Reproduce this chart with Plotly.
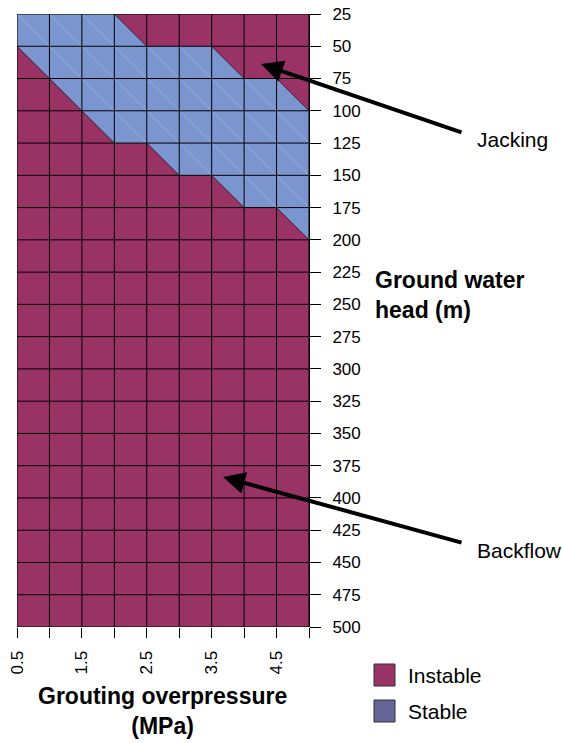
import plotly.graph_objects as go

# Grid of the stability map: grouting overpressure (MPa) across, ground water head (m) down
pressure = [0.5, 1.0, 1.5, 2.0, 2.5, 3.0, 3.5, 4.0, 4.5, 5.0]
pressure_labels = ["0.5", "", "1.5", "", "2.5", "", "3.5", "", "4.5", ""]
head = [25, 50, 75, 100, 125, 150, 175, 200, 225, 250,
        275, 300, 325, 350, 375, 400, 425, 450, 475, 500]

# 1 = stable, 0 = instable, one row per head value, one column per pressure value
stable = [
    [1, 1, 1, 1, 0, 0, 0, 0, 0, 0],  # 25
    [1, 1, 1, 1, 1, 1, 1, 0, 0, 0],  # 50
    [0, 1, 1, 1, 1, 1, 1, 1, 1, 0],  # 75
    [0, 0, 1, 1, 1, 1, 1, 1, 1, 1],  # 100
    [0, 0, 0, 1, 1, 1, 1, 1, 1, 1],  # 125
    [0, 0, 0, 0, 0, 1, 1, 1, 1, 1],  # 150
    [0, 0, 0, 0, 0, 0, 0, 1, 1, 1],  # 175
    [0, 0, 0, 0, 0, 0, 0, 0, 0, 1],  # 200
    [0, 0, 0, 0, 0, 0, 0, 0, 0, 0],  # 225
    [0, 0, 0, 0, 0, 0, 0, 0, 0, 0],  # 250
    [0, 0, 0, 0, 0, 0, 0, 0, 0, 0],  # 275
    [0, 0, 0, 0, 0, 0, 0, 0, 0, 0],  # 300
    [0, 0, 0, 0, 0, 0, 0, 0, 0, 0],  # 325
    [0, 0, 0, 0, 0, 0, 0, 0, 0, 0],  # 350
    [0, 0, 0, 0, 0, 0, 0, 0, 0, 0],  # 375
    [0, 0, 0, 0, 0, 0, 0, 0, 0, 0],  # 400
    [0, 0, 0, 0, 0, 0, 0, 0, 0, 0],  # 425
    [0, 0, 0, 0, 0, 0, 0, 0, 0, 0],  # 450
    [0, 0, 0, 0, 0, 0, 0, 0, 0, 0],  # 475
    [0, 0, 0, 0, 0, 0, 0, 0, 0, 0],  # 500
]

legend_names = ["Instable", "Stable"]

INSTABLE = "#993366"
STABLE_FILL = "#7B96CE"
STABLE_KEY = "#666699"
FONT = "Liberation Sans, Arial, sans-serif"

# Each grid cell is split along its top-left / bottom-right diagonal;
# a triangle is stable only when all three of its corners are stable.
tri_x, tri_y = [], []
edge_x, edge_y = [], []
seam_x, seam_y = [], []
for j in range(len(head) - 1):
    for i in range(len(pressure) - 1):
        x0, x1 = pressure[i], pressure[i + 1]
        y0, y1 = head[j], head[j + 1]
        upper = stable[j][i] and stable[j][i + 1] and stable[j + 1][i + 1]
        lower = stable[j][i] and stable[j + 1][i] and stable[j + 1][i + 1]
        if upper:
            tri_x += [x0, x1, x1, x0, None]
            tri_y += [y0, y0, y1, y0, None]
        if lower:
            tri_x += [x0, x0, x1, x0, None]
            tri_y += [y0, y1, y1, y0, None]
        if upper and lower:
            seam_x += [x0, x1, None]
            seam_y += [y0, y1, None]
        elif upper or lower:
            edge_x += [x0, x1, None]
            edge_y += [y0, y1, None]

p0, p1 = pressure[0], pressure[-1]
h0, h1 = head[0], head[-1]

grid_x, grid_y = [], []
for p in pressure:
    grid_x += [p, p, None]
    grid_y += [h0, h1, None]
for h in head:
    grid_x += [p0, p1, None]
    grid_y += [h, h, None]

fig = go.Figure()

# instable background over the whole grid
fig.add_trace(go.Scatter(
    x=[p0, p1, p1, p0, p0], y=[h0, h0, h1, h1, h0],
    mode="lines", fill="toself", fillcolor=INSTABLE, name=legend_names[0],
    line=dict(width=0), showlegend=False, hoverinfo="skip"))

# stable triangles
fig.add_trace(go.Scatter(
    x=tri_x, y=tri_y, mode="lines", fill="toself", fillcolor=STABLE_FILL,
    name=legend_names[1], line=dict(width=0), showlegend=False, hoverinfo="skip"))

# faint diagonals inside stable cells
fig.add_trace(go.Scatter(
    x=seam_x, y=seam_y, mode="lines",
    line=dict(color="rgba(225,232,250,0.28)", width=1),
    showlegend=False, hoverinfo="skip"))

# boundary diagonals between the two zones
fig.add_trace(go.Scatter(
    x=edge_x, y=edge_y, mode="lines",
    line=dict(color="rgba(40,20,40,0.8)", width=1),
    showlegend=False, hoverinfo="skip"))

# cell grid
fig.add_trace(go.Scatter(
    x=grid_x, y=grid_y, mode="lines",
    line=dict(color="black", width=1),
    showlegend=False, hoverinfo="skip"))

PLOT_L, PLOT_T, PLOT_W, PLOT_H = 17, 14, 292, 613


def px_x(px):
    return (px - PLOT_L) / PLOT_W


def px_y(py):
    return (PLOT_T + PLOT_H - py) / PLOT_H


fig.update_layout(
    width=562, height=743, autosize=False,
    margin=dict(l=PLOT_L, r=562 - PLOT_L - PLOT_W, t=PLOT_T,
                b=743 - PLOT_T - PLOT_H, pad=0),
    paper_bgcolor="white", plot_bgcolor="white",
    font=dict(family=FONT, size=17, color="black"),
    showlegend=False,
    xaxis=dict(
        range=[p0, p1], tickmode="array", tickvals=pressure, ticktext=pressure_labels,
        tickangle=-90, ticks="outside", ticklen=10, tickwidth=1, tickcolor="black",
        showgrid=False, zeroline=False, showline=False, automargin=False,
        tickfont=dict(size=17), ticklabelstandoff=6, fixedrange=True),
    yaxis=dict(
        range=[h1, h0], side="right", tickmode="array", tickvals=head,
        ticks="outside", ticklen=11, tickwidth=1, tickcolor="black",
        showgrid=False, zeroline=False, showline=True, linecolor="black", linewidth=1,
        automargin=False, tickfont=dict(size=17), ticklabelstandoff=8,
        fixedrange=True),
    hovermode=False,
)

annotations = [
    # arrows
    dict(x=4.26, y=63.7, xref="x", yref="y", text="", showarrow=True,
         arrowhead=2, arrowsize=1.1, arrowwidth=4, arrowcolor="black",
         ax=202, ay=69),
    dict(x=3.675, y=383.8, xref="x", yref="y", text="", showarrow=True,
         arrowhead=2, arrowsize=1.1, arrowwidth=4, arrowcolor="black",
         ax=240, ay=66),
    # labels
    dict(x=px_x(475), y=px_y(139), xref="paper", yref="paper", text="Jacking",
         showarrow=False, xanchor="left", yanchor="middle", font=dict(size=21)),
    dict(x=px_x(475), y=px_y(550), xref="paper", yref="paper", text="Backflow",
         showarrow=False, xanchor="left", yanchor="middle", font=dict(size=21)),
    dict(x=px_x(373), y=px_y(295), xref="paper", yref="paper",
         text="<b>Ground water<br>head (m)</b>", align="left",
         showarrow=False, xanchor="left", yanchor="middle", font=dict(size=23)),
    dict(x=px_x(162), y=px_y(711), xref="paper", yref="paper",
         text="<b>Grouting overpressure<br>(MPa)</b>", align="center",
         showarrow=False, xanchor="center", yanchor="middle", font=dict(size=23)),
]

# legend keys
shapes = []
for name, color, cy in [(legend_names[0], INSTABLE, 675), (legend_names[1], STABLE_KEY, 711)]:
    shapes.append(dict(type="rect", xref="paper", yref="paper",
                       x0=px_x(374), x1=px_x(395), y0=px_y(cy + 11), y1=px_y(cy - 11),
                       fillcolor=color, line=dict(color="#333333", width=1)))
    annotations.append(dict(x=px_x(406), y=px_y(cy), xref="paper", yref="paper",
                            text=name, showarrow=False, xanchor="left",
                            yanchor="middle", font=dict(size=21)))

fig.update_layout(annotations=annotations, shapes=shapes)

fig.write_html("out.html")
